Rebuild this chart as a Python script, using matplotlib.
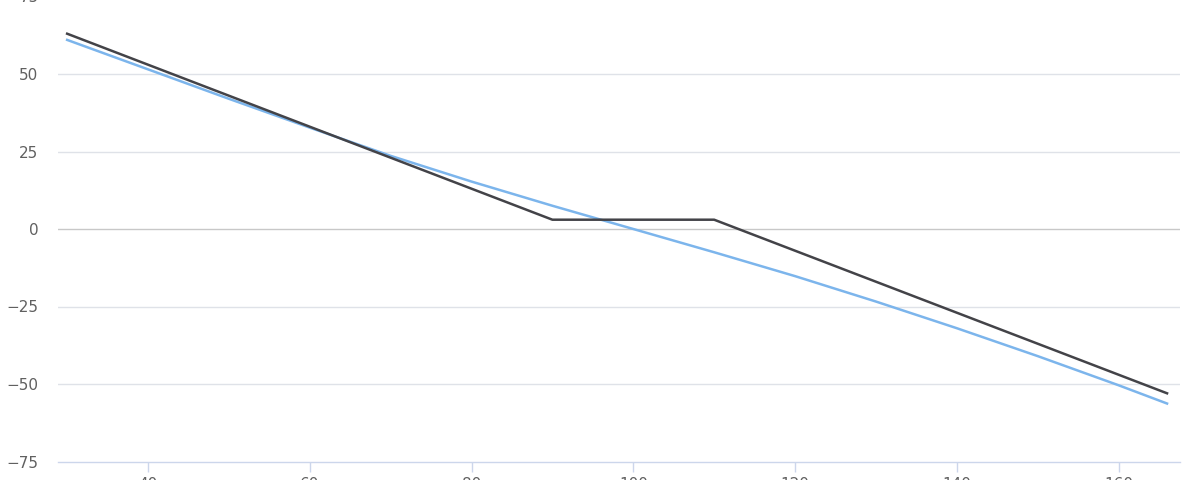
"""Payoff-style line chart: value now vs. value at expiry."""

import matplotlib
matplotlib.use("Agg")
import matplotlib.pyplot as plt

# --- data ---
expiry_x = [30, 90, 110, 166]
expiry_y = [63, 3, 3, -53]

now_x = [30, 40, 50, 60, 70, 80, 90, 100, 110, 120, 130, 140, 150, 160, 166]
now_y = [61.0, 51.5, 42.0, 32.7, 23.6, 15.3, 7.5, 0.0, -7.5, -15.2, -23.4,
         -32.0, -41.0, -50.4, -56.3]

x_ticks = [40, 60, 80, 100, 120, 140, 160]
y_ticks = [-75, -50, -25, 0, 25, 50, 75]

COLORS = {
    "now": "#7cb5ec",
    "expiry": "#434348",
    "grid": "#dfe2e8",
    "zero": "#c8c8c8",
    "axis": "#ccd6eb",
    "label": "#606060",
}

plt.rcParams.update({
    "font.family": ["DejaVu Sans"],
    "font.size": 11,
})

fig = plt.figure(figsize=(12, 4.8), dpi=100)
ax = fig.add_axes([58 / 1200, 1 - 461.5 / 480, 1122 / 1200, 465 / 480])

ax.plot(now_x, now_y, color=COLORS["now"], linewidth=1.8, zorder=3)
ax.plot(expiry_x, expiry_y, color=COLORS["expiry"], linewidth=1.8, zorder=4)

ax.set_xlim(28.87, 167.6)
ax.set_ylim(-75, 75)
ax.set_xticks(x_ticks)
ax.set_yticks(y_ticks)

for y in y_ticks:
    if y == -75:
        continue
    ax.axhline(y, color=COLORS["zero"] if y == 0 else COLORS["grid"],
               linewidth=1.0, zorder=1)

for side in ("top", "right", "left"):
    ax.spines[side].set_visible(False)
ax.spines["bottom"].set_color(COLORS["axis"])
ax.spines["bottom"].set_linewidth(1.0)

ax.tick_params(axis="y", length=0, pad=14, labelcolor=COLORS["label"],
               labelsize=11)
ax.tick_params(axis="x", length=7, width=1, color=COLORS["axis"], pad=4,
               labelcolor=COLORS["label"], labelsize=11)

fig.savefig("out.png", dpi=100)
